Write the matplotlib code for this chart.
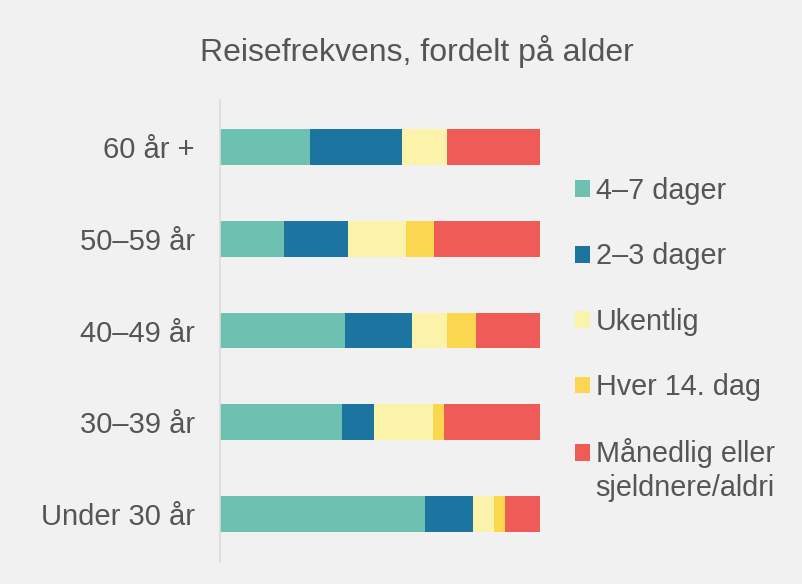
import numpy as np
import matplotlib.pyplot as plt

plt.rcParams["font.family"] = ["Liberation Sans", "DejaVu Sans"]

# Andel (%) per aldersgruppe, lest av figuren
groups = ["60 år +", "50–59 år", "40–49 år", "30–39 år", "Under 30 år"]
series = ["4–7 dager", "2–3 dager", "Ukentlig", "Hver 14. dag",
          "Månedlig eller"]
last_label_line2 = "sjeldnere/aldri"
days_4_7 = [28, 20, 39, 38, 64]
days_2_3 = [29, 20, 21, 10, 15]
weekly = [14, 18, 11, 18.5, 6.5]
biweekly = [0, 9, 9, 3.5, 3.5]
monthly_or_less = [29, 33, 20, 30, 11]
colors = ["#6dc1b1", "#1b75a0", "#fbf3aa", "#fbd64f", "#ef5b56"]

BG = "#f1f1f1"
TXT = "#555555"

fig = plt.figure(figsize=(8.03, 5.84), dpi=100, facecolor=BG)
ax = fig.add_axes([220 / 803, 1 - 562 / 584, 320 / 803, 462 / 584])
ax.set_facecolor(BG)

y = np.arange(len(groups))
left = np.zeros(len(groups))
for vals, name, c in zip([days_4_7, days_2_3, weekly, biweekly, monthly_or_less],
                         series, colors):
    vals = np.array(vals, dtype=float)
    ax.barh(y, vals, left=left, height=0.39, color=c, label=name)
    left += vals

ax.set_xlim(0, 100)
ax.set_ylim(4.52, -0.51)
ax.set_yticks(y)
ax.set_yticklabels(groups, fontsize=21, color=TXT)
ax.tick_params(axis="y", length=0, pad=18)
ax.set_xticks([])
for s in ["top", "right", "bottom"]:
    ax.spines[s].set_visible(False)
ax.spines["left"].set_color("#dcdcdc")
ax.spines["left"].set_linewidth(1.2)

fig.text(417 / 803, 1 - 52 / 584, "Reisefrekvens, fordelt på alder",
         ha="center", va="center", fontsize=23, color=TXT)

leg = ax.legend(loc="upper left", bbox_to_anchor=(575 / 803, 1 - 177 / 584),
                bbox_transform=fig.transFigure, frameon=False, fontsize=20.7,
                handlelength=0.52, handleheight=0.52, handletextpad=0.2,
                labelspacing=1.3, borderpad=0, borderaxespad=0)
for t in leg.get_texts():
    t.set_color(TXT)

# second line of the last legend label, placed under the first line
fig.canvas.draw()
bb = leg.get_texts()[-1].get_window_extent()
x0, y0 = fig.transFigure.inverted().transform((bb.x0, bb.y0))
fig.text(x0, y0 - 6 / 584, last_label_line2, ha="left", va="top",
         fontsize=20.7, color=TXT)

fig.savefig("out.png", dpi=100, facecolor=BG)
